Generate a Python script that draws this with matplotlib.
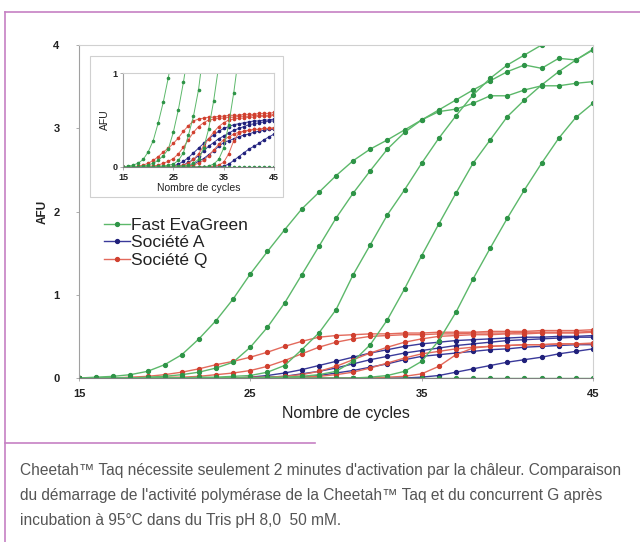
import matplotlib
matplotlib.use("Agg")
import matplotlib.pyplot as plt
from matplotlib.lines import Line2D
from matplotlib.patches import Rectangle

plt.rcParams['font.family'] = ['Liberation Sans', 'DejaVu Sans']

cycles = [15, 16, 17, 18, 19, 20, 21, 22, 23, 24, 25, 26, 27, 28, 29, 30,
          31, 32, 33, 34, 35, 36, 37, 38, 39, 40, 41, 42, 43, 44, 45]

# Fast EvaGreen
g1 = [0.00, 0.01, 0.02, 0.04, 0.08, 0.16, 0.28, 0.47, 0.69, 0.95,
      1.25, 1.52, 1.78, 2.03, 2.23, 2.43, 2.61, 2.75, 2.86, 2.98,
      3.10, 3.22, 3.34, 3.46, 3.57, 3.68, 3.76, 3.72, 3.84, 3.82, 3.95]
g2 = [0.00, 0.00, 0.00, 0.00, 0.01, 0.02, 0.04, 0.07, 0.12, 0.19,
      0.37, 0.61, 0.90, 1.24, 1.58, 1.92, 2.22, 2.49, 2.75, 2.95,
      3.10, 3.20, 3.23, 3.30, 3.39, 3.39, 3.46, 3.51, 3.51, 3.54, 3.56]
g3 = [0.00, 0.00, 0.00, 0.00, 0.00, 0.00, 0.00, 0.01, 0.01, 0.02,
      0.03, 0.07, 0.15, 0.34, 0.54, 0.82, 1.24, 1.60, 1.96, 2.26,
      2.58, 2.88, 3.15, 3.40, 3.60, 3.76, 3.88, 4.00, 4.10, 4.20, 4.28]
g4 = [0.00, 0.00, 0.00, 0.00, 0.00, 0.00, 0.00, 0.00, 0.00, 0.00,
      0.00, 0.01, 0.01, 0.02, 0.04, 0.08, 0.20, 0.40, 0.70, 1.07,
      1.47, 1.85, 2.22, 2.58, 2.86, 3.14, 3.34, 3.52, 3.68, 3.82, 3.94]
g5 = [0.00, 0.00, 0.00, 0.00, 0.00, 0.00, 0.00, 0.00, 0.00, 0.00,
      0.00, 0.00, 0.00, 0.00, 0.00, 0.00, 0.00, 0.01, 0.03, 0.08,
      0.20, 0.45, 0.79, 1.19, 1.56, 1.92, 2.26, 2.58, 2.88, 3.13, 3.30]
g0 = [0.00, 0.00, 0.00, 0.00, 0.00, 0.00, 0.00, 0.00, 0.00, 0.00,
      0.00, 0.00, 0.00, 0.00, 0.00, 0.00, 0.00, 0.00, 0.00, 0.00,
      0.00, 0.00, 0.00, 0.00, 0.00, 0.00, 0.00, 0.00, 0.00, 0.00, 0.00]

# Société Q
q1 = [0.00, 0.00, 0.00, 0.01, 0.02, 0.04, 0.07, 0.11, 0.16, 0.20,
      0.25, 0.31, 0.38, 0.44, 0.49, 0.51, 0.52, 0.53, 0.53, 0.54,
      0.54, 0.55, 0.55, 0.55, 0.56, 0.56, 0.56, 0.57, 0.57, 0.57, 0.58]
q2 = [0.00, 0.00, 0.00, 0.00, 0.00, 0.01, 0.01, 0.02, 0.04, 0.06,
      0.09, 0.14, 0.21, 0.29, 0.37, 0.43, 0.47, 0.50, 0.51, 0.52,
      0.52, 0.53, 0.53, 0.54, 0.54, 0.54, 0.55, 0.55, 0.55, 0.55, 0.56]
q3 = [0.00, 0.00, 0.00, 0.00, 0.00, 0.00, 0.00, 0.00, 0.00, 0.00,
      0.01, 0.01, 0.02, 0.04, 0.08, 0.14, 0.22, 0.30, 0.37, 0.43,
      0.47, 0.50, 0.51, 0.52, 0.52, 0.53, 0.53, 0.54, 0.54, 0.54, 0.55]
q4 = [0.00, 0.00, 0.00, 0.00, 0.00, 0.00, 0.00, 0.00, 0.00, 0.00,
      0.00, 0.00, 0.01, 0.01, 0.02, 0.04, 0.07, 0.12, 0.18, 0.24,
      0.29, 0.32, 0.35, 0.37, 0.38, 0.39, 0.40, 0.40, 0.41, 0.41, 0.42]
q5 = [0.00, 0.00, 0.00, 0.00, 0.00, 0.00, 0.00, 0.00, 0.00, 0.00,
      0.00, 0.00, 0.00, 0.00, 0.00, 0.00, 0.00, 0.00, 0.01, 0.02,
      0.05, 0.14, 0.28, 0.36, 0.38, 0.39, 0.40, 0.40, 0.41, 0.41, 0.41]

# Société A
a1 = [0.00, 0.00, 0.00, 0.00, 0.00, 0.00, 0.00, 0.00, 0.00, 0.00,
      0.01, 0.03, 0.06, 0.10, 0.15, 0.20, 0.25, 0.30, 0.34, 0.38,
      0.41, 0.43, 0.45, 0.46, 0.47, 0.48, 0.49, 0.49, 0.50, 0.50, 0.51]
a2 = [0.00, 0.00, 0.00, 0.00, 0.00, 0.00, 0.00, 0.00, 0.00, 0.00,
      0.00, 0.01, 0.02, 0.05, 0.08, 0.12, 0.17, 0.22, 0.26, 0.30,
      0.33, 0.36, 0.39, 0.41, 0.43, 0.45, 0.46, 0.47, 0.48, 0.49, 0.49]
a3 = [0.00, 0.00, 0.00, 0.00, 0.00, 0.00, 0.00, 0.00, 0.00, 0.00,
      0.00, 0.00, 0.00, 0.01, 0.03, 0.06, 0.09, 0.13, 0.17, 0.22,
      0.26, 0.28, 0.30, 0.32, 0.34, 0.35, 0.37, 0.38, 0.39, 0.40, 0.40]
a4 = [0.00, 0.00, 0.00, 0.00, 0.00, 0.00, 0.00, 0.00, 0.00, 0.00,
      0.00, 0.00, 0.00, 0.00, 0.00, 0.00, 0.00, 0.00, 0.00, 0.00,
      0.01, 0.03, 0.07, 0.11, 0.15, 0.19, 0.22, 0.25, 0.29, 0.32, 0.35]

green_series = [g0, g1, g2, g3, g4, g5]
red_series = [q1, q2, q3, q4, q5]
blue_series = [a1, a2, a3, a4]

labels = ["Fast EvaGreen", "Société A", "Société Q"]
x_ticks = [15, 25, 35, 45]
main_y_ticks = [0, 1, 2, 3, 4]
inset_y_ticks = [0, 1]
x_label = "Nombre de cycles"
y_label = "AFU"
caption = ["Cheetah\u2122 Taq nécessite seulement 2 minutes d'activation par la châleur. Comparaison",
           "du démarrage de l'activité polymérase de la Cheetah\u2122 Taq et du concurrent G après",
           "incubation à 95°C dans du Tris pH 8,0  50 mM."]

GREEN_L, GREEN_M = '#5cb86a', '#2e9447'
BLUE_L, BLUE_M = '#3a3a9a', '#20207a'
RED_L, RED_M = '#e36a5c', '#d0402f'

W, H = 640, 542
fig = plt.figure(figsize=(W / 100, H / 100), dpi=100)
fig.patch.set_facecolor('white')


def fx(px):
    return px / W


def fy(py):
    return 1 - py / H


def draw(ax, ms, lw):
    for s in blue_series:
        ax.plot(cycles, s, '-', color=BLUE_L, lw=lw, marker='o', ms=ms,
                mfc=BLUE_M, mec=BLUE_M)
    for s in red_series:
        ax.plot(cycles, s, '-', color=RED_L, lw=lw, marker='o', ms=ms,
                mfc=RED_M, mec=RED_M)
    for s in green_series:
        ax.plot(cycles, s, '-', color=GREEN_L, lw=lw, marker='o', ms=ms,
                mfc=GREEN_M, mec=GREEN_M)


def style(ax, fs):
    for side in ['top', 'right']:
        ax.spines[side].set_color('#d0d0d0')
    ax.spines['left'].set_color('#a0a0a0')
    ax.spines['bottom'].set_color('#808080')
    for sp in ax.spines.values():
        sp.set_linewidth(0.8)
    ax.tick_params(length=2, width=0.6, color='#a0a0a0', labelsize=fs,
                   pad=3)
    for lab in ax.get_xticklabels() + ax.get_yticklabels():
        lab.set_fontweight('bold')
        lab.set_color('#222222')


# Main axes
ax = fig.add_axes([fx(79), fy(378), fx(593) - fx(79), fy(45) - fy(378)])
draw(ax, 2.8, 1.0)
ax.set_xlim(15, 45)
ax.set_ylim(0, 4)
ax.set_xticks(x_ticks)
ax.set_yticks(main_y_ticks)
style(ax, 8)
ax.tick_params(axis='y', pad=12)
ax.tick_params(axis='x', pad=6)
ax.set_xlabel(x_label, fontsize=11.5, color='#222222', labelpad=4)
ax.xaxis.set_label_coords(0.52, -0.085)
ax.set_ylabel(y_label, fontsize=8.5, fontweight='bold', color='#222222',
              labelpad=3)

# Legend
handles = [Line2D([], [], color=GREEN_L, lw=1.0, marker='o', ms=2.8, mfc=GREEN_M, mec=GREEN_M),
           Line2D([], [], color=BLUE_L, lw=1.0, marker='o', ms=2.8, mfc=BLUE_M, mec=BLUE_M),
           Line2D([], [], color=RED_L, lw=1.0, marker='o', ms=2.8, mfc=RED_M, mec=RED_M)]
fig.legend(handles, labels, loc='upper left', bbox_to_anchor=(fx(104), fy(218)),
           frameon=False, fontsize=12.5, handlelength=1.5, handletextpad=0.05,
           labelspacing=0.12, borderpad=0, borderaxespad=0,
           labelcolor='#222222')

# Inset box
fig.add_artist(Rectangle((fx(90), fy(197)), fx(283) - fx(90), fy(56) - fy(197),
                         transform=fig.transFigure, fill=True, facecolor='white',
                         edgecolor='#d0d0d0', lw=0.8, zorder=2))
ins = fig.add_axes([fx(123), fy(167), fx(274) - fx(123), fy(73) - fy(167)], zorder=3)
draw(ins, 1.6, 0.7)
ins.set_xlim(15, 45)
ins.set_ylim(0, 1)
ins.set_xticks(x_ticks)
ins.set_yticks(inset_y_ticks)
style(ins, 6.5)
ins.tick_params(axis='both', pad=2)
ins.set_xlabel(x_label, fontsize=7.5, color='#222222', labelpad=1)
ins.set_ylabel(y_label, fontsize=7.5, color='#222222', labelpad=2)

# Frame lines
frame_c = '#c680c4'
fig.add_artist(Line2D([fx(5), 1.0], [fy(12), fy(12)], transform=fig.transFigure,
                      color=frame_c, lw=1.2))
fig.add_artist(Line2D([fx(5), fx(5)], [fy(12), 0.0], transform=fig.transFigure,
                      color=frame_c, lw=1.2))
fig.add_artist(Line2D([fx(5), fx(315)], [fy(443), fy(443)], transform=fig.transFigure,
                      color=frame_c, lw=1.2))

# Caption
for i, line in enumerate(caption):
    fig.text(fx(20), fy(471 + 24.5 * i), line, fontsize=11.2, color='#555555',
             va='center', ha='left')

fig.savefig('out.png', dpi=100)
